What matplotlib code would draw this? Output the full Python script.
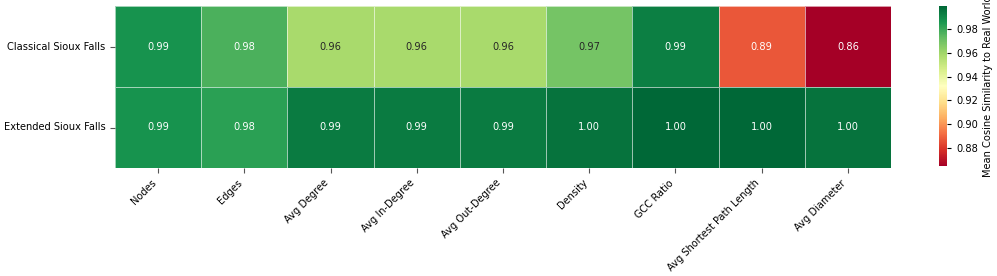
import numpy as np
import pandas as pd
import matplotlib
matplotlib.use("Agg")
import matplotlib.pyplot as plt
import seaborn as sns

metrics = ["Nodes", "Edges", "Avg Degree", "Avg In-Degree", "Avg Out-Degree",
           "Density", "GCC Ratio", "Avg Shortest Path Length", "Avg Diameter"]
networks = ["Classical Sioux Falls", "Extended Sioux Falls"]
classical = [0.987, 0.977, 0.958, 0.958, 0.958, 0.969, 0.993, 0.887, 0.8645]
extended = [0.987, 0.983, 0.994, 0.994, 0.994, 0.996, 0.9995, 0.999, 0.996]

df = pd.DataFrame([classical, extended], index=networks, columns=metrics)

FS = 7.1
fig = plt.figure(figsize=(9.97, 2.76), dpi=100)
ax = fig.add_axes([115/997, 1-168/276, (891-115)/997, (168-6)/276])
cax = fig.add_axes([939/997, 1-166/276, 8/997, (166-6)/276])

sns.heatmap(df, ax=ax, cbar_ax=cax, cmap="RdYlGn", annot=True, fmt=".2f",
            linewidths=0.5, linecolor=(1, 1, 1, 0.6),
            annot_kws={"fontsize": FS},
            cbar_kws={"label": "Mean Cosine Similarity to Real World"})

plt.setp(ax.get_xticklabels(), rotation=45, ha="right", fontsize=FS)
plt.setp(ax.get_yticklabels(), rotation=0, fontsize=FS)
ax.tick_params(axis="both", length=3.5, width=0.8, color="#555555")
cax.tick_params(labelsize=FS, length=3)
cax.yaxis.label.set_size(FS)

fig.savefig("out.png", dpi=100)
